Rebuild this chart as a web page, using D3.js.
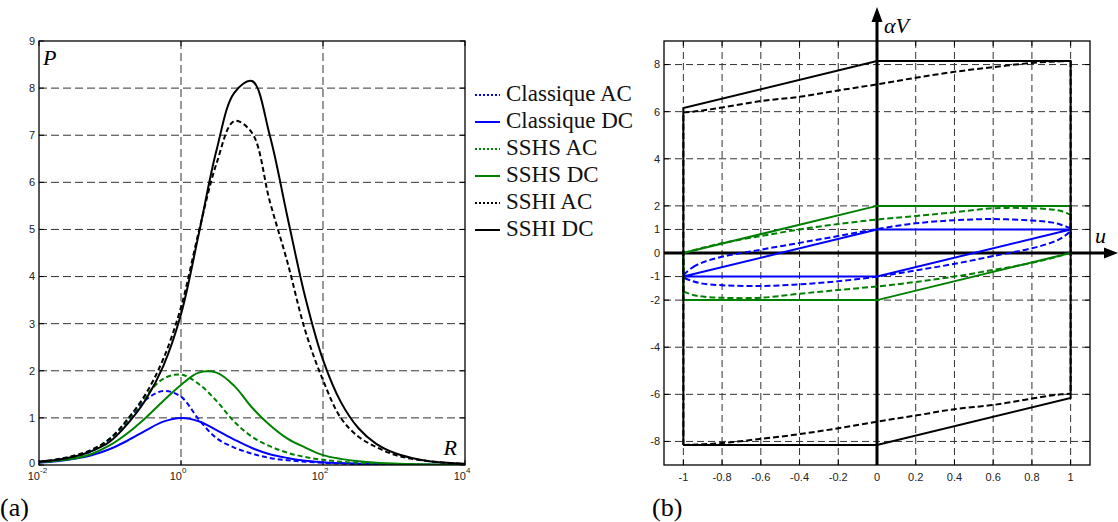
<!DOCTYPE html>
<html><head><meta charset="utf-8">
<script src="https://cdn.jsdelivr.net/npm/d3@7"></script>
<style>body{margin:0;background:#fff}svg{display:block}</style>
</head><body>
<svg id="c" width="1118" height="522"></svg>
<script>
// ---------- data: panel (a) ----------
const logR = [-2,-1.75,-1.5,-1.25,-1,-0.75,-0.5,-0.25,0,0.25,0.5,0.75,1,1.25,1.5,1.75,2,2.25,2.5,2.75,3,3.25,3.5,3.75,4];
const pClassiqueAC = [0.06,0.1,0.17,0.3,0.55,0.93,1.38,1.57,1.45,0.97,0.57,0.37,0.24,0.15,0.1,0.07,0.045,0.03,0.02,0.013,0.008,0.005,0.003,0.002,0.001];
const pClassiqueDC = [0.05,0.08,0.13,0.21,0.34,0.52,0.73,0.92,1.0,0.93,0.74,0.54,0.36,0.23,0.15,0.09,0.06,0.04,0.025,0.015,0.01,0.007,0.005,0.003,0.002];
const pSSHSAC = [0.06,0.1,0.17,0.31,0.56,0.95,1.45,1.83,1.92,1.72,1.36,0.92,0.6,0.4,0.26,0.17,0.11,0.07,0.045,0.03,0.02,0.013,0.008,0.005,0.003];
const pSSHSDC = [0.06,0.09,0.14,0.24,0.42,0.68,1.0,1.36,1.7,1.96,1.96,1.68,1.22,0.85,0.56,0.37,0.21,0.13,0.08,0.05,0.03,0.02,0.01,0.007,0.004];
const pSSHIAC = [0.07,0.12,0.2,0.33,0.56,0.98,1.5,2.25,3.35,4.95,6.4,7.3,7.05,5.6,4.3,2.85,1.8,1.0,0.6,0.38,0.22,0.13,0.08,0.045,0.025];
const pSSHIDC = [0.07,0.11,0.18,0.3,0.5,0.88,1.38,2.1,3.2,4.9,6.68,7.9,8.15,7.0,5.26,3.56,2.23,1.34,0.78,0.45,0.26,0.15,0.082,0.046,0.026];
const yTicksA = [0,1,2,3,4,5,6,7,8,9];
const xExpA = [-2,0,2,4];
const legendLabels = ["Classique AC","Classique DC","SSHS AC","SSHS DC","SSHI AC","SSHI DC"];

// ---------- data: panel (b) ----------
const uPts = [-1,-0.95,-0.9,-0.8,-0.6,-0.4,-0.2,0,0.2,0.4,0.6,0.8,0.9,0.95,1];
const vClassiqueACUp = [-1,-0.6,-0.4,-0.16,0.14,0.43,0.72,1.02,1.26,1.39,1.44,1.38,1.3,1.2,1];
const vClassiqueACLo = [-1,-1.2,-1.3,-1.37,-1.4,-1.33,-1.2,-1.0,-0.74,-0.46,-0.13,0.2,0.44,0.62,1];
const vSSHSACUp = [0,0.11,0.22,0.42,0.72,1.0,1.23,1.42,1.57,1.73,1.9,1.9,1.85,1.78,1.63];
const vSSHSACLo = [-1.63,-1.78,-1.85,-1.9,-1.9,-1.73,-1.57,-1.42,-1.23,-1.0,-0.72,-0.42,-0.22,-0.11,0];
const vSSHIACUp = [5.98,6.0,6.05,6.18,6.45,6.63,6.9,7.16,7.44,7.69,7.89,8.07,8.12,8.14,8.15];
const vSSHIACLo = [-8.15,-8.14,-8.12,-8.07,-7.89,-7.69,-7.44,-7.16,-6.9,-6.63,-6.45,-6.18,-6.05,-6.0,-5.98];
const uClassiqueDC = [-1,0,1,0,-1];
const vClassiqueDC = [-1,1,1,-1,-1];
const uSSHSDC = [-1,0,1,1,0,-1,-1];
const vSSHSDC = [0,2,2,0,-2,-2,0];
const uSSHIDC = [-1,0,1,1,0,-1,-1];
const vSSHIDC = [-8.15,-8.15,-6.15,8.15,8.15,6.15,-8.15];
const xTicksB = [-1,-0.8,-0.6,-0.4,-0.2,0,0.2,0.4,0.6,0.8,1];
const yTicksB = [-8,-6,-4,-2,-1,0,1,2,4,6,8];

const BLUE="#0000ff", GREEN="#008000", BLACK="#000";
const colors = [BLUE,BLUE,GREEN,GREEN,BLACK,BLACK];
const svg = d3.select("#c");
const sans = "'Liberation Sans', Arial, sans-serif";
const serif = "'Liberation Serif', 'Times New Roman', serif";
const GRID = "#333";

// ================= panel (a) =================
const xA = d3.scaleLog().domain([1e-2,1e4]).range([39,465]);
const yA = d3.scaleLinear().domain([0,9]).range([465,41]);
const gA = svg.append("g");
gA.append("clipPath").attr("id","clipA").append("rect")
  .attr("x",39).attr("y",41).attr("width",426).attr("height",424);
[1,100].forEach(v=>gA.append("line").attr("x1",xA(v)).attr("x2",xA(v)).attr("y1",41).attr("y2",465)
  .attr("stroke",GRID).attr("stroke-dasharray","8,4").attr("stroke-width",1));
yTicksA.filter(v=>v>0&&v<9).forEach(v=>gA.append("line").attr("x1",39).attr("x2",465).attr("y1",yA(v)).attr("y2",yA(v))
  .attr("stroke",GRID).attr("stroke-dasharray","8,4").attr("stroke-width",1));
yTicksA.forEach(v=>{
  gA.append("line").attr("x1",39).attr("x2",44).attr("y1",yA(v)).attr("y2",yA(v)).attr("stroke","#000");
  gA.append("line").attr("x1",460).attr("x2",465).attr("y1",yA(v)).attr("y2",yA(v)).attr("stroke","#000");
  gA.append("text").attr("x",35).attr("y",yA(v)).attr("dy", v===0 ? "0.2em" : "0.35em").attr("text-anchor","end")
    .attr("font-family",sans).attr("font-size",11).attr("fill","#222").text(v);
});
xExpA.forEach(e=>{
  const x = xA(Math.pow(10,e));
  gA.append("line").attr("x1",x).attr("x2",x).attr("y1",465).attr("y2",460).attr("stroke","#000");
  gA.append("line").attr("x1",x).attr("x2",x).attr("y1",41).attr("y2",46).attr("stroke","#000");
  gA.append("text").attr("x",x+1).attr("y",480).attr("text-anchor","end")
    .attr("font-family",sans).attr("font-size",11).attr("fill","#222").text("10");
  gA.append("text").attr("x",x+1).attr("y",473).attr("text-anchor","start")
    .attr("font-family",sans).attr("font-size",8).attr("fill","#222").text(e);
});
const seriesA = [pClassiqueAC,pClassiqueDC,pSSHSAC,pSSHSDC,pSSHIAC,pSSHIDC];
const lineA = d3.line().x(d=>xA(Math.pow(10,d[0]))).y(d=>yA(d[1])).curve(d3.curveCatmullRom.alpha(0.5));
const cg = gA.append("g").attr("clip-path","url(#clipA)");
seriesA.forEach((s,i)=>{
  cg.append("path").attr("d",lineA(logR.map((r,k)=>[r,s[k]])))
    .attr("fill","none").attr("stroke",colors[i]).attr("stroke-width",2)
    .attr("stroke-dasharray", i%2===0 ? "5,3" : null);
});
gA.append("rect").attr("x",39).attr("y",41).attr("width",426).attr("height",424)
  .attr("fill","none").attr("stroke","#000").attr("stroke-width",1.3);
gA.append("text").attr("x",43).attr("y",65).attr("font-family",serif).attr("font-style","italic")
  .attr("font-size",22).text("P");
gA.append("text").attr("x",457).attr("y",455).attr("text-anchor","end").attr("font-family",serif)
  .attr("font-style","italic").attr("font-size",22).text("R");
legendLabels.forEach((t,i)=>{
  const y = 93 + i*27;
  gA.append("line").attr("x1",475).attr("x2",500).attr("y1",y+2).attr("y2",y+2)
    .attr("stroke",colors[i]).attr("stroke-width",2).attr("stroke-dasharray", i%2===0 ? "2,2" : null);
  gA.append("text").attr("x",506).attr("y",y).attr("dy","0.35em").attr("font-family",serif)
    .attr("font-size",23).attr("fill","#111").text(t);
});
svg.append("text").attr("x",0).attr("y",516).attr("font-family",serif).attr("font-size",26).text("(a)");

// ================= panel (b) =================
const xB = d3.scaleLinear().domain([-1.1,1.1]).range([664,1090]);
const yB = d3.scaleLinear().domain([-9,9]).range([465,41]);
const gB = svg.append("g");
xTicksB.filter(v=>v!==0).forEach(v=>gB.append("line").attr("x1",xB(v)).attr("x2",xB(v)).attr("y1",41).attr("y2",465)
  .attr("stroke",GRID).attr("stroke-dasharray","7,4").attr("stroke-width",1));
yTicksB.filter(v=>v!==0).forEach(v=>gB.append("line").attr("x1",664).attr("x2",1090).attr("y1",yB(v)).attr("y2",yB(v))
  .attr("stroke",GRID).attr("stroke-dasharray","7,4").attr("stroke-width",1));
yTicksB.forEach(v=>{
  gB.append("line").attr("x1",664).attr("x2",669).attr("y1",yB(v)).attr("y2",yB(v)).attr("stroke","#000");
  gB.append("line").attr("x1",1085).attr("x2",1090).attr("y1",yB(v)).attr("y2",yB(v)).attr("stroke","#000");
  gB.append("text").attr("x",660).attr("y",yB(v)).attr("dy","0.35em").attr("text-anchor","end")
    .attr("font-family",sans).attr("font-size",11).attr("fill","#222").text(v);
});
xTicksB.forEach(v=>{
  gB.append("line").attr("x1",xB(v)).attr("x2",xB(v)).attr("y1",465).attr("y2",460).attr("stroke","#000");
  gB.append("line").attr("x1",xB(v)).attr("x2",xB(v)).attr("y1",41).attr("y2",46).attr("stroke","#000");
  gB.append("text").attr("x",xB(v)).attr("y",481).attr("text-anchor","middle")
    .attr("font-family",sans).attr("font-size",11).attr("fill","#222").text(v);
});
gB.append("rect").attr("x",664).attr("y",41).attr("width",426).attr("height",424)
  .attr("fill","none").attr("stroke","#000").attr("stroke-width",1.3);
gB.append("line").attr("x1",xB(0)).attr("x2",xB(0)).attr("y1",465).attr("y2",18)
  .attr("stroke","#000").attr("stroke-width",3);
gB.append("path").attr("d",`M${xB(0)},7 L${xB(0)-5.5},22 L${xB(0)+5.5},22 Z`).attr("fill","#000");
gB.append("line").attr("x1",664).attr("x2",1108).attr("y1",yB(0)).attr("y2",yB(0))
  .attr("stroke","#000").attr("stroke-width",3);
gB.append("path").attr("d",`M1118,${yB(0)} L1104,${yB(0)-5.5} L1104,${yB(0)+5.5} Z`).attr("fill","#000");
gB.append("text").attr("x",884).attr("y",33).attr("font-family",serif).attr("font-style","italic")
  .attr("font-size",22).text("αV");
gB.append("text").attr("x",1095).attr("y",243).attr("font-family",serif).attr("font-style","italic")
  .attr("font-size",22).text("u");
const lin = d3.line().x(d=>xB(d[0])).y(d=>yB(d[1]));
const smooth = d3.line().x(d=>xB(d[0])).y(d=>yB(d[1])).curve(d3.curveCatmullRom.alpha(0.5));
function pts(u,v){return u.map((x,k)=>[x,v[k]]);}
function stroke(p,c,dash){return p.attr("fill","none").attr("stroke",c).attr("stroke-width",2).attr("stroke-dasharray",dash?"6,3":null);}
stroke(gB.append("path").attr("d",lin(pts(uClassiqueDC,vClassiqueDC))),BLUE,false);
stroke(gB.append("path").attr("d",lin(pts(uSSHSDC,vSSHSDC))),GREEN,false);
const ellipse = pts(uPts,vClassiqueACUp).concat(pts(uPts,vClassiqueACLo).reverse().slice(1,-1));
stroke(gB.append("path").attr("d",d3.line().x(d=>xB(d[0])).y(d=>yB(d[1])).curve(d3.curveCatmullRomClosed.alpha(0.5))(ellipse)),BLUE,true);
[[vSSHSACUp,vSSHSACLo,GREEN],[vSSHIACUp,vSSHIACLo,BLACK]].forEach(([up,lo,c])=>{
  stroke(gB.append("path").attr("d",smooth(pts(uPts,up))),c,true);
  stroke(gB.append("path").attr("d",smooth(pts(uPts,lo))),c,true);
  stroke(gB.append("path").attr("d",lin([[1,up[up.length-1]],[1,lo[lo.length-1]]])),c,true);
  stroke(gB.append("path").attr("d",lin([[-1,lo[0]],[-1,up[0]]])),c,true);
});
stroke(gB.append("path").attr("d",lin(pts(uSSHIDC,vSSHIDC))),BLACK,false);
svg.append("text").attr("x",652).attr("y",516).attr("font-family",serif).attr("font-size",26).text("(b)");
</script>
</body></html>
